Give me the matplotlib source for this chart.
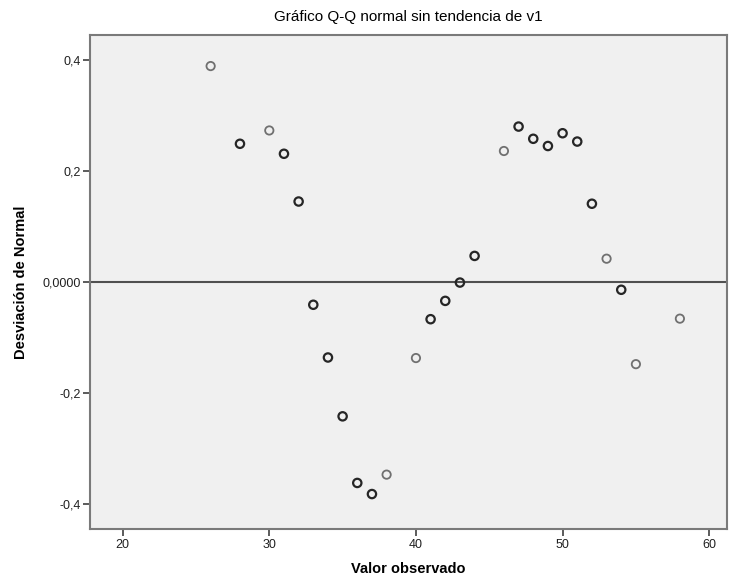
import numpy as np
import matplotlib
matplotlib.use("Agg")
import matplotlib.pyplot as plt

plt.rcParams['font.family'] = ['Liberation Sans', 'DejaVu Sans']

# Valores observados y su desviación de la normal
observed = [26, 28, 30, 31, 32, 33, 34, 35, 36, 37, 38, 40, 41, 42, 43, 44,
            46, 47, 48, 49, 50, 51, 52, 53, 54, 55, 58]
deviation = [0.389, 0.249, 0.273, 0.231, 0.145, -0.041, -0.136, -0.242, -0.362,
             -0.382, -0.347, -0.137, -0.067, -0.034, -0.001, 0.047, 0.236, 0.280,
             0.258, 0.245, 0.268, 0.253, 0.141, 0.042, -0.014, -0.148, -0.066]
# puntos con más de un caso (se ven más oscuros)
repeated = [False, True, False, True, True, True, True, True, True, True, False,
            False, True, True, True, True, False, True, True, True, True, True,
            True, False, True, False, False]

x_ticks = [20, 30, 40, 50, 60]
y_ticks = [0.4, 0.2, 0.0, -0.2, -0.4]
y_tick_labels = ['0,4', '0,2', '0,0000', '-0,2', '-0,4']

fig = plt.figure(figsize=(7.29, 5.88), dpi=100)
ax = fig.add_axes([0.124, 0.1003, 0.873, 0.8402])
ax.set_facecolor('#f0f0f0')

ax.axhline(0, color='#505050', linewidth=1.5, zorder=1)

obs = np.array(observed)
dev = np.array(deviation)
rep = np.array(repeated)
ax.scatter(obs[~rep], dev[~rep], s=36, facecolors='none', edgecolors='#707070',
           linewidths=1.3, zorder=3)
ax.scatter(obs[rep], dev[rep], s=36, facecolors='none', edgecolors='#262626',
           linewidths=1.6, zorder=3)

ax.set_xlim(17.8, 61.2)
ax.set_ylim(-0.445, 0.445)
ax.set_xticks(x_ticks)
ax.set_xticklabels([str(v) for v in x_ticks])
ax.set_yticks(y_ticks)
ax.set_yticklabels(y_tick_labels)

for side in ['left', 'bottom', 'top', 'right']:
    ax.spines[side].set_color('#7a7a7a')
    ax.spines[side].set_linewidth(1.5)

ax.tick_params(axis='both', direction='out', length=5, width=1.2, color='#404040',
               labelsize=9, labelcolor='#202020', pad=2)

ax.set_xlabel('Valor observado', fontsize=10.5, fontweight='bold', labelpad=8)
ax.set_ylabel('Desviación de Normal', fontsize=10.5, fontweight='bold', labelpad=10)
ax.set_title('Gráfico Q-Q normal sin tendencia de v1', fontsize=11, pad=10)

fig.savefig('out.png', dpi=100)
